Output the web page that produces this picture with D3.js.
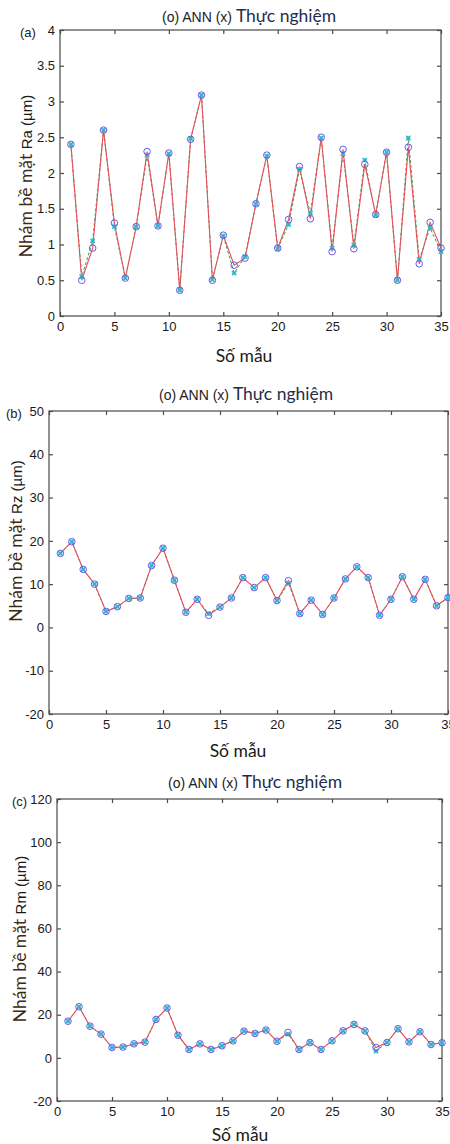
<!DOCTYPE html>
<html><head><meta charset="utf-8">
<script src="https://cdn.jsdelivr.net/npm/d3@7"></script>
<style>body{margin:0;background:#fff}svg{display:block}</style>
</head><body>
<script>
const samples = [1,2,3,4,5,6,7,8,9,10,11,12,13,14,15,16,17,18,19,20,21,22,23,24,25,26,27,28,29,30,31,32,33,34,35];
const xTicks = [0,5,10,15,20,25,30,35];

const raTicks = [0,0.5,1,1.5,2,2.5,3,3.5,4];
const raTickLabels = ["0","0.5","1","1.5","2","2.5","3","3.5","4"];
const raANN = [2.40,0.50,0.95,2.60,1.30,0.53,1.25,2.30,1.26,2.28,0.36,2.47,3.09,0.50,1.13,0.71,0.81,1.57,2.25,0.95,1.35,2.09,1.36,2.50,0.90,2.33,0.94,2.12,1.42,2.29,0.50,2.36,0.73,1.31,0.95];
const raExp = [2.40,0.55,1.05,2.60,1.25,0.53,1.25,2.25,1.26,2.27,0.36,2.48,3.09,0.51,1.12,0.60,0.83,1.57,2.24,0.94,1.28,2.05,1.44,2.49,0.95,2.27,0.99,2.18,1.41,2.29,0.50,2.49,0.79,1.23,0.90];

const rzTicks = [-20,-10,0,10,20,30,40,50];
const rzTickLabels = ["-20","-10","0","10","20","30","40","50"];
const rzANN = [17.1,19.8,13.4,10.0,3.7,4.8,6.7,6.8,14.3,18.3,10.9,3.5,6.5,2.8,4.7,6.8,11.5,9.2,11.5,6.2,10.8,3.2,6.3,3.0,6.8,11.2,14.0,11.5,2.8,6.5,11.7,6.5,11.1,5.0,6.9];
const rzExp = [17.1,19.8,13.4,10.0,3.7,4.8,6.7,6.8,14.3,18.3,10.9,3.5,6.5,3.2,4.7,6.8,11.5,9.2,11.5,6.2,10.2,3.2,6.3,3.0,6.8,11.2,14.0,11.5,2.8,6.5,11.7,6.5,11.1,5.0,6.9];

const rmTicks = [-20,0,20,40,60,80,100,120];
const rmTickLabels = ["-20","0","20","40","60","80","100","120"];
const rmANN = [17.0,23.7,14.7,11.0,4.8,5.0,6.5,7.3,17.8,23.1,10.5,3.9,6.5,3.9,5.6,7.9,12.4,11.3,12.9,7.7,11.8,3.9,7.1,3.9,7.9,12.5,15.5,12.5,4.8,7.1,13.5,7.4,12.1,6.2,7.0];
const rmExp = [17.0,23.7,14.7,11.0,4.8,5.0,6.5,7.3,17.8,23.1,10.5,3.9,6.5,3.9,5.6,7.9,12.4,11.3,12.9,7.7,11.0,3.9,7.1,3.9,7.9,12.5,15.5,12.5,3.1,7.1,13.5,7.4,12.1,6.2,7.0];

const W = 450, H = 1144;
const svg = d3.select("body").append("svg").attr("width", W).attr("height", H);

const SANS = "'Liberation Sans', Arial, sans-serif";
const HUM = "Lato, 'Open Sans', sans-serif";

function panel(cfg) {
  const g = svg.append("g");
  const x = d3.scaleLinear().domain([0, 35]).range([cfg.left, cfg.right]);
  const y = d3.scaleLinear().domain(cfg.yDomain).range([cfg.bottom, cfg.top]);

  g.append("rect").attr("x", cfg.left).attr("y", cfg.top)
    .attr("width", cfg.right - cfg.left).attr("height", cfg.bottom - cfg.top)
    .attr("fill", "none").attr("stroke", "#4a4a4a").attr("stroke-width", 1.2);

  const fmtY = (d, i) => cfg.yLabels[i];
  const axB = g.append("g").attr("transform", `translate(0,${cfg.bottom})`)
    .call(d3.axisBottom(x).tickValues(xTicks).tickSize(-4).tickPadding(6).tickFormat(d3.format("d")));
  const axT = g.append("g").attr("transform", `translate(0,${cfg.top})`)
    .call(d3.axisTop(x).tickValues(xTicks).tickSize(-4).tickFormat(""));
  const axL = g.append("g").attr("transform", `translate(${cfg.left},0)`)
    .call(d3.axisLeft(y).tickValues(cfg.yTicks).tickSize(-4).tickPadding(5).tickFormat(fmtY));
  const axR = g.append("g").attr("transform", `translate(${cfg.right},0)`)
    .call(d3.axisRight(y).tickValues(cfg.yTicks).tickSize(-4).tickFormat(""));
  [axB, axT, axL, axR].forEach(a => {
    a.select(".domain").remove();
    a.selectAll(".tick line").attr("stroke", "#4a4a4a").attr("stroke-width", 1.2);
    a.selectAll("text").attr("font-family", SANS).attr("font-size", 13).attr("fill", "#1a1a1a");
  });

  const line = d3.line().x((d, i) => x(samples[i])).y(d => y(d));
  g.append("path").datum(cfg.exp).attr("d", line).attr("fill", "none")
    .attr("stroke", "#3a9a5a").attr("stroke-width", 1).attr("stroke-dasharray", "3,2");
  g.append("path").datum(cfg.ann).attr("d", line).attr("fill", "none")
    .attr("stroke", "#e8505a").attr("stroke-width", 1.1);

  const ex = g.append("g");
  cfg.exp.forEach((v, i) => {
    const cx = x(samples[i]), cy = y(v), r = 2.3;
    ex.append("circle").attr("cx", cx).attr("cy", cy).attr("r", 2.2).attr("fill", "#48c4dc").attr("opacity", 0.85);
    ex.append("path").attr("d", `M${cx - r},${cy - r}L${cx + r},${cy + r}M${cx - r},${cy + r}L${cx + r},${cy - r}`)
      .attr("stroke", "#28b4bc").attr("stroke-width", 1.1);
  });
  g.append("g").selectAll("circle").data(cfg.ann).join("circle")
    .attr("cx", (d, i) => x(samples[i])).attr("cy", d => y(d)).attr("r", 3.3)
    .attr("fill", "none").attr("stroke", "#6a5ae8").attr("stroke-width", 1);

  const t = g.append("text").attr("x", cfg.titleX).attr("y", cfg.titleY);
  t.append("tspan").attr("font-family", SANS).attr("font-size", 14).attr("fill", "#222").text("(o) ANN (x) ");
  t.append("tspan").attr("font-family", HUM).attr("font-size", 17.5).attr("fill", "#1f2d4d").text("Thực nghiệm");

  g.append("text").attr("x", cfg.tagX).attr("y", cfg.tagY).attr("font-family", SANS)
    .attr("font-size", 13).attr("fill", "#222").text(cfg.tag);

  const yl = g.append("text").attr("transform", `translate(${cfg.ylX},${cfg.ylY}) rotate(-90)`)
    .attr("text-anchor", "middle");
  yl.append("tspan").attr("font-family", HUM).attr("font-size", 17.5).attr("fill", "#3d2a12").text("Nhám bề mặt ");
  yl.append("tspan").attr("font-family", SANS).attr("font-size", 15).attr("fill", "#1a1a1a").text(cfg.ylUnit);

  g.append("text").attr("x", cfg.xlX).attr("y", cfg.xlY).attr("text-anchor", "middle")
    .attr("font-family", HUM).attr("font-size", 17.5).attr("fill", "#1a1a1a").text("Số mẫu");
}

panel({left: 60, right: 441, top: 30, bottom: 316, yDomain: [0, 4], yTicks: raTicks, yLabels: raTickLabels,
  ann: raANN, exp: raExp, titleX: 162, titleY: 22, tag: "(a)", tagX: 20, tagY: 37,
  ylX: 32, ylY: 176, ylUnit: " Ra (µm)", xlX: 244, xlY: 362});
panel({left: 49, right: 448, top: 411, bottom: 714, yDomain: [-20, 50], yTicks: rzTicks, yLabels: rzTickLabels,
  ann: rzANN, exp: rzExp, titleX: 159, titleY: 400, tag: "(b)", tagX: 6, tagY: 418,
  ylX: 22, ylY: 541, ylUnit: "Rz (µm)", xlX: 238, xlY: 757});
panel({left: 57, right: 442, top: 799, bottom: 1101, yDomain: [-20, 120], yTicks: rmTicks, yLabels: rmTickLabels,
  ann: rmANN, exp: rmExp, titleX: 168, titleY: 788, tag: "(c)", tagX: 12, tagY: 806,
  ylX: 26, ylY: 939, ylUnit: " Rm (µm)", xlX: 240, xlY: 1141});
</script>
</body></html>
